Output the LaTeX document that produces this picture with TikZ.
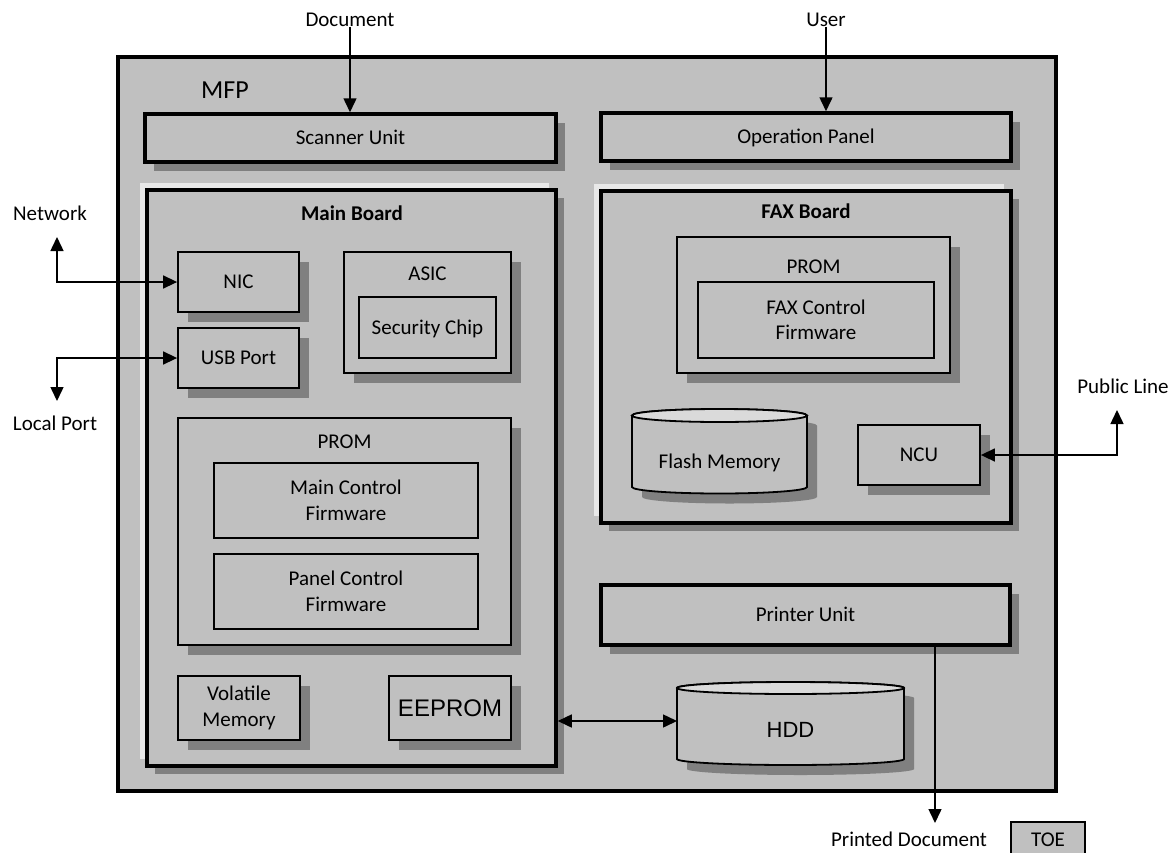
\documentclass[tikz,border=0pt]{standalone}
\usepackage{fontspec}
\setmainfont{Carlito}
\newfontfamily\arialf{Liberation Sans}
\usetikzlibrary{arrows.meta,shadows}
\definecolor{boxgray}{RGB}{192,192,192}
\definecolor{shadowgray}{RGB}{128,128,128}
\definecolor{hilite}{RGB}{232,232,232}
\definecolor{topgray}{RGB}{218,218,218}
\begin{document}
\begin{tikzpicture}[x=1pt,y=-1pt,
  lab/.style={font=\fontsize{21}{25.5}\selectfont, inner sep=0pt, text height=13.5pt, text depth=0pt},
  ml/.style={font=\fontsize{21}{25.5}\selectfont, inner sep=0pt, align=center},
  bld/.style={font=\bfseries\fontsize{21}{25.5}\selectfont},
  thin/.style={draw=black, fill=boxgray, line width=1.8pt},
  thick/.style={draw=black, fill=boxgray, line width=3.5pt},
  wh/.style 2 args={minimum width=#1pt, minimum height=#2pt},
  shad/.style={drop shadow={shadow xshift=#1pt, shadow yshift=-#1pt, fill=shadowgray, opacity=1}},
  shad/.default=10,
  hili/.style={drop shadow={shadow xshift=-7pt, shadow yshift=7pt, fill=hilite, opacity=1}},
  arr/.style={line width=1.5pt, -{Triangle[length=14pt,width=13pt]}},
  dbl/.style={line width=1.5pt, {Triangle[length=14pt,width=13pt]}-{Triangle[length=14pt,width=13pt]}},
  cyl/.style={draw=black, fill=boxgray, line width=1.8pt},
]
\useasboundingbox (0,0) rectangle (1176,852);

% outer MFP
\node[thick, wh={938}{734}] (mfp) at (587,424) {};
\node[lab, font=\fontsize{26}{30}\selectfont, text height=16.7pt] (mfpl) at (225,90) {MFP};

% top units
\node[thick, shad=9, lab, wh={411}{48}] (scanner) at (350.5,138) {Scanner Unit};
\node[thick, shad=9, lab, wh={410}{48}] (oppanel) at (806,137) {Operation Panel};

% main board
\node[thick, shad=8, hili, wh={409}{576}] (mainboard) at (351.5,478) {};
\node[lab, bld] (mbl) at (352,214) {Main Board};
\node[thin, shad, lab, wh={121}{60}] (nic) at (238.5,282) {NIC};
\node[thin, shad, lab, wh={121}{60}] (usb) at (238.5,358) {USB Port};
\node[thin, shad, wh={167}{121}] (asic) at (427.5,312.5) {};
\node[lab] (asicl) at (427.5,274) {ASIC};
\node[thin, lab, wh={137}{61}] (sec) at (427.5,327.5) {Security Chip};
\node[thin, shad, wh={333}{227}] (prom) at (344.5,531.5) {};
\node[lab] (proml) at (344.5,442) {PROM};
\node[thin, ml, wh={264}{75}] (mcf) at (346,500.5) {Main Control\\Firmware};
\node[thin, ml, wh={264}{75}] (pcf) at (346,591.5) {Panel Control\\Firmware};
\node[thin, shad, ml, wh={122}{64}] (vol) at (239,708) {Volatile\\Memory};
\node[thin, shad, lab, font=\arialf\fontsize{24}{28}\selectfont, text height=17pt, wh={122}{64}] (eeprom) at (450,708) {EEPROM};

% FAX board
\node[thick, shad=8, hili, wh={410}{332}] (fax) at (806,357) {};
\node[lab, bld] (faxl) at (806,212) {FAX Board};
\node[thin, shad, wh={273}{136}] (fprom) at (813.5,305) {};
\node[lab] (fproml) at (813.5,267) {PROM};
\node[thin, ml, wh={236}{76}] (fcf) at (816,320) {FAX Control\\Firmware};
% flash memory cylinder
\fill[shadowgray] (642,425.5) -- (642,497) arc[start angle=180,end angle=360,x radius=87.5pt,y radius=6.5pt] -- (817,425.5) arc[start angle=0,end angle=180,x radius=87.5pt,y radius=6.5pt] -- cycle;
\filldraw[cyl] (632,415.5) -- (632,487) arc[start angle=180,end angle=360,x radius=87.5pt,y radius=6.5pt] -- (807,415.5) arc[start angle=0,end angle=180,x radius=87.5pt,y radius=6.5pt] -- cycle;
\filldraw[cyl, fill=topgray] (719.5,415.5) ellipse[x radius=87.5pt, y radius=6.5pt];
\node[lab] (flash) at (719.5,462) {Flash Memory};
\node[thin, shad, lab, wh={122}{60}] (ncu) at (919,455) {NCU};

% printer and HDD
\node[thick, shad=9, lab, wh={409}{60}] (printer) at (805.5,615) {Printer Unit};
\fill[shadowgray] (687,698) -- (687,769) arc[start angle=180,end angle=360,x radius=113.5pt,y radius=6pt] -- (914,698) arc[start angle=0,end angle=180,x radius=113.5pt,y radius=6pt] -- cycle;
\filldraw[cyl] (677,688) -- (677,759) arc[start angle=180,end angle=360,x radius=113.5pt,y radius=6pt] -- (904,688) arc[start angle=0,end angle=180,x radius=113.5pt,y radius=6pt] -- cycle;
\filldraw[cyl, fill=topgray] (790.5,688) ellipse[x radius=113.5pt, y radius=6pt];
\node[lab, font=\arialf\fontsize{22}{26}\selectfont, text height=15.7pt] (hdd) at (790.5,730) {HDD};
\coordinate (hddw) at (677,721);

% outside labels
\node[lab] (docl) at (350,20) {Document};
\node[lab] (userl) at (826,20) {User};
\node[lab] (netl) at (50,214) {Network};
\node[lab] (locl) at (55,424) {Local Port};
\node[lab] (publ) at (1123,387) {Public Line};
\node[lab] (prtl) at (909,840) {Printed Document};
\node[lab, draw=black, fill=boxgray, line width=1.5pt, wh={74}{36}] (toe) at (1048,840) {TOE};

% connectors
\draw[arr] (docl.south) -- (docl.south |- scanner.north);
\draw[arr] (userl.south) -- (userl.south |- oppanel.north);
\coordinate (netend) at (57,237);
\coordinate (netc) at (57,282);
\draw[dbl] (netend) -- (netc) -- (nic.west);
\coordinate (locend) at (57,401);
\coordinate (locc) at (57,358);
\draw[dbl] (locend) -- (locc) -- (usb.west);
\coordinate (pubend) at (1117,410);
\coordinate (pubc) at (1117,455);
\draw[dbl] (pubend) -- (pubc) -- (ncu.east);
\draw[dbl] (mainboard.east |- hddw) -- (hddw);
\coordinate (prtend) at (935,823);
\draw[arr] (printer.south -| prtend) -- (prtend);
\end{tikzpicture}
\end{document}
